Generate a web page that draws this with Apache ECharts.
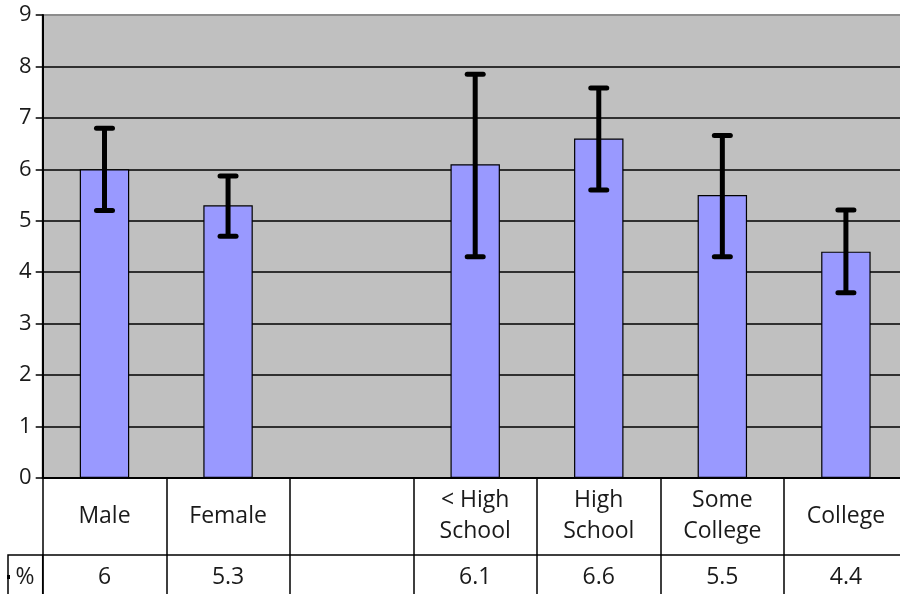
<!DOCTYPE html>
<html>
<head>
<meta charset="utf-8">
<script src="https://cdn.jsdelivr.net/npm/echarts@6/dist/echarts.min.js"></script>
<style>
html,body{margin:0;padding:0;background:#fff;}
#chart{width:900px;height:594px;}
</style>
</head>
<body>
<div id="chart"></div>
<script>
var categories = ['Male', 'Female', '', '< High\nSchool', 'High\nSchool', 'Some\nCollege', 'College'];
var values = [6, 5.3, null, 6.1, 6.6, 5.5, 4.4];
var errLow = [5.2, 4.7, null, 4.3, 5.6, 4.3, 3.6];
var errHigh = [6.8, 5.87, null, 7.85, 7.58, 6.66, 5.21];
var rowLabel = '%';
var yTicks = [0, 1, 2, 3, 4, 5, 6, 7, 8, 9];

var FONT = '"Open Sans", "DejaVu Sans", sans-serif';
var TXT = '#1a1a1a';

var valueLabels = values.map(function (v) { return v == null ? '' : String(v); });
var errData = [];
for (var i = 0; i < categories.length; i++) {
  if (errLow[i] != null && errHigh[i] != null) errData.push([i, errLow[i], errHigh[i]]);
}
var yMax = yTicks[yTicks.length - 1];
var splitColors = yTicks.map(function (t) { return t === yMax ? '#8c8c8c' : '#000'; });

var chart = echarts.init(document.getElementById('chart'), null, {renderer: 'canvas'});
chart.setOption({
  animation: false,
  backgroundColor: '#ffffff',
  grid: {
    left: 42.7, top: 15, width: 865, height: 463,
    outerBoundsMode: 'none', containLabel: false,
    show: true, backgroundColor: '#c0c0c0', borderColor: '#8c8c8c', borderWidth: 2
  },
  xAxis: [{
    type: 'category',
    data: categories,
    position: 'bottom',
    boundaryGap: true,
    axisLine: {show: true, lineStyle: {color: '#000', width: 2}},
    axisTick: {show: true, interval: 0, inside: false, length: 77, lineStyle: {color: '#000', width: 1.5}},
    axisLabel: {
      interval: 0, margin: 38, verticalAlign: 'middle', align: 'center',
      fontFamily: FONT, fontSize: 23, lineHeight: 31, color: TXT
    },
    splitLine: {show: false}
  }, {
    type: 'category',
    data: valueLabels,
    position: 'bottom',
    offset: 77,
    boundaryGap: true,
    axisLine: {show: true, lineStyle: {color: '#000', width: 1.5}},
    axisTick: {show: true, interval: 0, inside: false, length: 45, lineStyle: {color: '#000', width: 1.5}},
    axisLabel: {
      interval: 0, margin: 22, verticalAlign: 'middle', align: 'center',
      fontFamily: FONT, fontSize: 23, color: TXT
    },
    splitLine: {show: false}
  }],
  yAxis: {
    type: 'value',
    min: yTicks[0], max: yMax, interval: 1,
    axisLine: {show: true, lineStyle: {color: '#000', width: 2}},
    axisTick: {show: true, length: 7, lineStyle: {color: '#000', width: 1.5}},
    axisLabel: {margin: 11, fontFamily: FONT, fontSize: 22, color: TXT},
    splitLine: {show: true, lineStyle: {color: splitColors, width: 1.5}}
  },
  graphic: [
    {type: 'rect', shape: {x: 8, y: 555, width: 34.7, height: 60}, style: {fill: 'none', stroke: '#000', lineWidth: 1.5}, z: 10},
    {type: 'text', x: 25, y: 577, style: {text: rowLabel, font: '23px ' + FONT, fill: TXT, align: 'center', verticalAlign: 'middle'}, z: 10},
    {type: 'rect', shape: {x: 7, y: 575, width: 3, height: 4}, style: {fill: '#000'}, z: 11}
  ],
  series: [{
    type: 'bar',
    xAxisIndex: 0,
    data: values,
    barWidth: '40%',
    itemStyle: {color: '#9999ff', borderColor: '#000', borderWidth: 1.2},
    z: 3
  }, {
    type: 'custom',
    xAxisIndex: 0,
    data: errData,
    encode: {x: 0, y: [1, 2]},
    z: 5,
    renderItem: function (params, api) {
      var lo = api.coord([api.value(0), api.value(1)]);
      var hi = api.coord([api.value(0), api.value(2)]);
      var half = 8;
      var st = {stroke: '#000', lineWidth: 5, lineCap: 'round'};
      return {
        type: 'group',
        children: [
          {type: 'line', shape: {x1: lo[0], y1: lo[1], x2: hi[0], y2: hi[1]}, style: {stroke: '#000', lineWidth: 5}},
          {type: 'line', shape: {x1: lo[0] - half, y1: lo[1], x2: lo[0] + half, y2: lo[1]}, style: st},
          {type: 'line', shape: {x1: hi[0] - half, y1: hi[1], x2: hi[0] + half, y2: hi[1]}, style: st}
        ]
      };
    }
  }]
});
</script>
</body>
</html>
